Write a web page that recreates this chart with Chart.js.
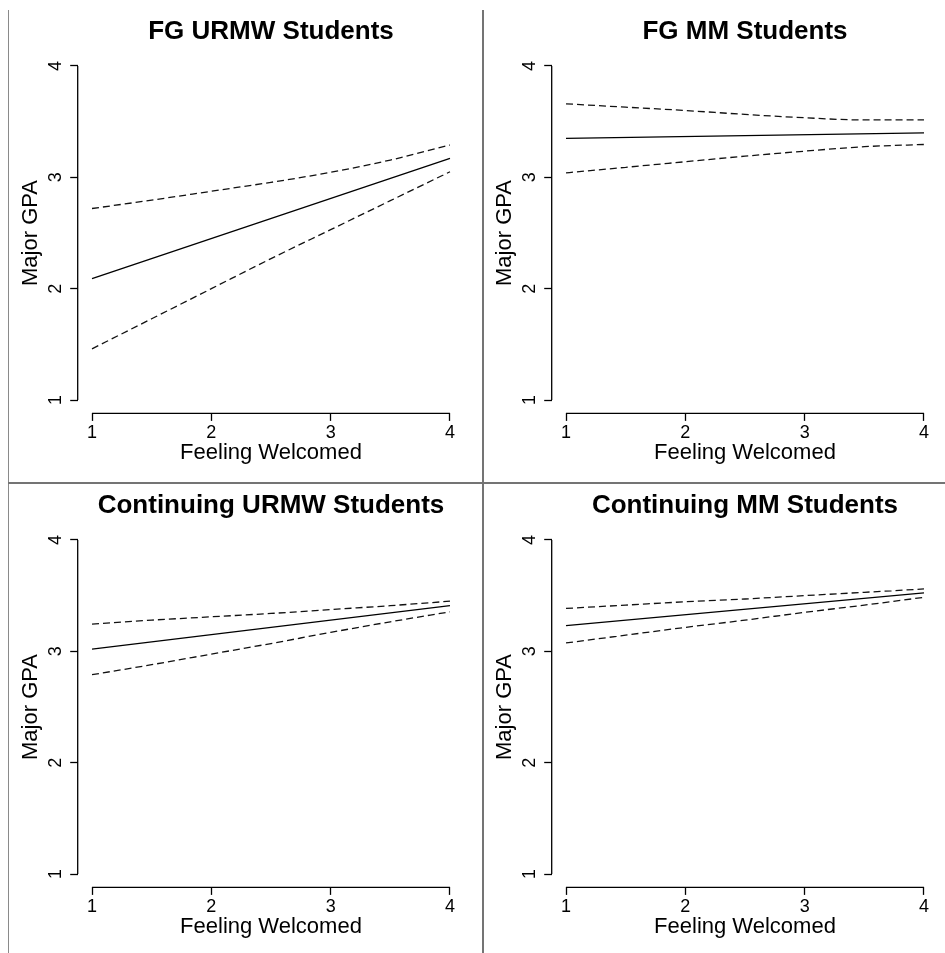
<!DOCTYPE html>
<html>
<head>
<meta charset="utf-8">
<script src="https://cdn.jsdelivr.net/npm/chart.js@4.4.0/dist/chart.umd.min.js"></script>
<style>
  body { margin: 0; background: #fff; overflow: hidden; }
  #page { position: relative; width: 945px; height: 953px; overflow: hidden; background: #fff; }
  #page canvas { position: absolute; }
  .rule { position: absolute; background: #747474; }
</style>
</head>
<body>
<div id="page">
  <canvas id="panel0" width="474" height="474" style="left:0px;top:0px"></canvas>
  <canvas id="panel1" width="474" height="474" style="left:474px;top:0px"></canvas>
  <canvas id="panel2" width="474" height="474" style="left:0px;top:474px"></canvas>
  <canvas id="panel3" width="474" height="474" style="left:474px;top:474px"></canvas>
  <div class="rule" style="left:8px;top:10px;width:1px;height:943px;background:#8a8a8a"></div>
  <div class="rule" style="left:482px;top:10px;width:2px;height:943px"></div>
  <div class="rule" style="left:8px;top:482px;width:937px;height:2px"></div>
</div>
<script>
// panel titles and axes
const panelTitles = ["FG URMW Students", "FG MM Students", "Continuing URMW Students", "Continuing MM Students"];
const xTitle = "Feeling Welcomed";
const yTitle = "Major GPA";
const xTicks = [1, 2, 3, 4];
const yTicks = [1, 2, 3, 4];

// x positions of the fitted line and of the confidence band points
const lineX = [1, 4];
const bandX = [1, 1.5, 2, 2.5, 3, 3.5, 4];

// FG URMW
const fitFgUrmw = [2.09, 3.17];
const upperFgUrmw = [2.72, 2.795, 2.875, 2.955, 3.045, 3.155, 3.29];
const lowerFgUrmw = [1.46, 1.73, 2.00, 2.27, 2.53, 2.79, 3.05];

// FG MM
const fitFgMm = [3.35, 3.40];
const upperFgMm = [3.66, 3.63, 3.60, 3.565, 3.535, 3.515, 3.515];
const lowerFgMm = [3.04, 3.09, 3.14, 3.19, 3.235, 3.275, 3.295];

// Continuing URMW
const fitContUrmw = [3.02, 3.41];
const upperContUrmw = [3.245, 3.28, 3.31, 3.34, 3.375, 3.41, 3.45];
const lowerContUrmw = [2.79, 2.88, 2.975, 3.07, 3.17, 3.265, 3.355];

// Continuing MM
const fitContMm = [3.23, 3.525];
const upperContMm = [3.385, 3.415, 3.445, 3.47, 3.50, 3.53, 3.56];
const lowerContMm = [3.075, 3.145, 3.215, 3.28, 3.35, 3.415, 3.485];

const panelFits = [fitFgUrmw, fitFgMm, fitContUrmw, fitContMm];
const panelUppers = [upperFgUrmw, upperFgMm, upperContUrmw, upperContMm];
const panelLowers = [lowerFgUrmw, lowerFgMm, lowerContUrmw, lowerContMm];

Chart.defaults.font.family = "'Liberation Sans', Arial, sans-serif";
Chart.defaults.color = "#000";

function toPoints(xs, ys) {
    return xs.map((x, i) => ({ x: x, y: ys[i] }));
}

// R style axis: the line only runs from first to last tick
const axisLines = {
    id: "axisLines",
    afterDraw(chart) {
        const ctx = chart.ctx;
        const xs = chart.scales.x;
        const ys = chart.scales.y;
        ctx.save();
        ctx.strokeStyle = "#000";
        ctx.lineWidth = 1.3;
        ctx.beginPath();
        ctx.moveTo(xs.getPixelForValue(xTicks[0]), xs.top);
        ctx.lineTo(xs.getPixelForValue(xTicks[xTicks.length - 1]), xs.top);
        ctx.moveTo(ys.right, ys.getPixelForValue(yTicks[0]));
        ctx.lineTo(ys.right, ys.getPixelForValue(yTicks[yTicks.length - 1]));
        ctx.stroke();
        ctx.restore();
    }
};

function makePanel(i) {
    const ctx = document.getElementById("panel" + i);
    const band = {
        borderColor: "#111",
        borderWidth: 1.3,
        borderDash: [7, 4],
        pointRadius: 0,
        cubicInterpolationMode: "monotone",
        fill: false
    };
    new Chart(ctx, {
        type: "line",
        data: {
            datasets: [
                { label: "fit", data: toPoints(lineX, panelFits[i]), borderColor: "#000", borderWidth: 1.3, pointRadius: 0, tension: 0, fill: false },
                Object.assign({ label: "upper", data: toPoints(bandX, panelUppers[i]) }, band),
                Object.assign({ label: "lower", data: toPoints(bandX, panelLowers[i]) }, band)
            ]
        },
        options: {
            responsive: false,
            animation: false,
            devicePixelRatio: 1,
            layout: { padding: { left: 0, right: 9.7, top: 0, bottom: 0 } },
            plugins: {
                legend: { display: false },
                tooltip: { enabled: false },
                title: {
                    display: true,
                    text: panelTitles[i],
                    fullSize: false,
                    color: "#000",
                    font: { size: 26, weight: "bold" },
                    padding: { top: 16.4, bottom: 5 }
                }
            },
            scales: {
                x: {
                    type: "linear",
                    min: 0.88,
                    max: 4.12,
                    border: { display: false },
                    grid: { drawOnChartArea: false, drawTicks: true, tickLength: 7.5, tickWidth: 1.3, tickColor: "#000" },
                    ticks: { padding: 1.5, font: { size: 18 }, color: "#000" },
                    afterBuildTicks: s => { s.ticks = xTicks.map(v => ({ value: v })); },
                    afterFit: s => { s.height = 60.6; },
                    title: { display: true, text: xTitle, color: "#000", font: { size: 22 }, padding: { top: 0, bottom: 7.8 } }
                },
                y: {
                    type: "linear",
                    min: 0.88,
                    max: 4.12,
                    border: { display: false },
                    grid: { drawOnChartArea: false, drawTicks: true, tickLength: 7.5, tickWidth: 1.3, tickColor: "#000" },
                    ticks: { minRotation: 90, maxRotation: 90, crossAlign: "center", padding: 9.4, font: { size: 18 }, color: "#000" },
                    afterBuildTicks: s => { s.ticks = yTicks.map(v => ({ value: v })); },
                    afterFit: s => { s.width = 77.7; },
                    title: { display: true, text: yTitle, color: "#000", font: { size: 22 }, padding: { top: 17.8, bottom: 0 } }
                }
            }
        },
        plugins: [axisLines]
    });
}

for (let i = 0; i < panelTitles.length; i++) {
    makePanel(i);
}
</script>
</body>
</html>
